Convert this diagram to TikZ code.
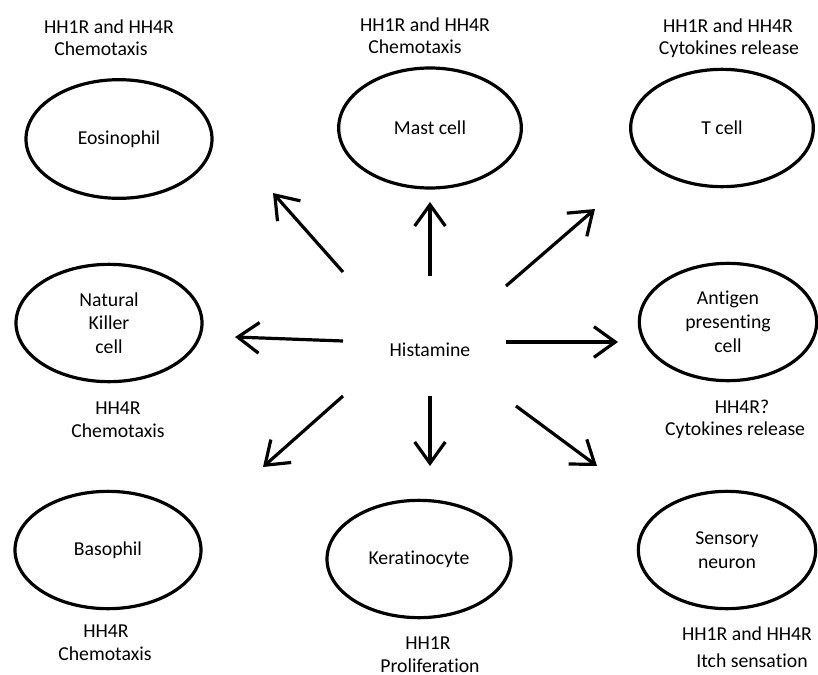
\documentclass[tikz,border=0pt]{standalone}
\usepackage{fontspec}
\setmainfont{Carlito}[Ligatures=CommonOff]
\usetikzlibrary{shapes.geometric,arrows.meta}
\tikzset{
  cell/.style 2 args={ellipse, draw=black, line width=2.4pt, minimum width=#1, minimum height=#2, inner sep=0pt, align=center, font=\fontsize{14.8}{17.8}\selectfont},
  lbl/.style={anchor=base, inner sep=0pt, font=\fontsize{14.8}{17.8}\selectfont},
  arr/.style={line width=2.4pt, -{Straight Barb[length=16pt,width=23pt,line width=2.4pt]}},
}
\begin{document}
\begin{tikzpicture}[x=0.75pt,y=-0.75pt]
\useasboundingbox (0,0) rectangle (818,675);
% cells
\node[cell={139.5pt}{89pt}] (eos) at (119,139) {Eosinophil};
\node[cell={137pt}{90pt}] (mast) at (430,128) {Mast cell};
\node[cell={137pt}{88pt}] (tcell) at (722,128) {T cell};
\node[cell={139.5pt}{88pt}] (nk) at (109,323) {Natural\\Killer\\cell};
\node[cell={133pt}{88pt}] (apc) at (728,322) {Antigen\\presenting\\cell};
\node[cell={139.5pt}{88pt}] (baso) at (108,550) {Basophil};
\node[cell={138pt}{88pt}] (kera) at (419,559) {Keratinocyte};
\node[cell={133pt}{88pt}] (sens) at (727,550) {Sensory\\neuron};
% center
\node[lbl, anchor=center] (hist) at (430,350) {Histamine};
% labels
\node[lbl] (eosA) at (109,33) {HH1R and HH4R};
\node[lbl] (eosB) at (101,55) {Chemotaxis};
\node[lbl] (mastA) at (425,31) {HH1R and HH4R};
\node[lbl] (mastB) at (415,53) {Chemotaxis};
\node[lbl] (tcellA) at (728,32) {HH1R and HH4R};
\node[lbl] (tcellB) at (729,54) {Cytokines release};
\node[lbl] (nkA) at (118,414) {HH4R};
\node[lbl] (nkB) at (118,437) {Chemotaxis};
\node[lbl] (apcA) at (742,413) {HH4R?};
\node[lbl] (apcB) at (735,435) {Cytokines release};
\node[lbl] (basoA) at (106,637) {HH4R};
\node[lbl] (basoB) at (105,660) {Chemotaxis};
\node[lbl] (keraA) at (428,649) {HH1R};
\node[lbl] (keraB) at (430,672) {Proliferation};
\node[lbl] (sensA) at (747,640) {HH1R and HH4R};
\node[lbl] (sensB) at (752,667) {Itch sensation};
% arrow ends
\coordinate (tNW) at (343,272); \coordinate (hNW) at (273,193);
\coordinate (tN) at (430,276);  \coordinate (hN) at (430,202);
\coordinate (tNE) at (506,286); \coordinate (hNE) at (595,209);
\coordinate (tE) at (506,342);  \coordinate (hE) at (618,342);
\coordinate (tW) at (343,341);  \coordinate (hW) at (235,337);
\coordinate (tSW) at (343,396); \coordinate (hSW) at (263,467);
\coordinate (tS) at (430,396);  \coordinate (hS) at (430,466);
\coordinate (tSE) at (516,406); \coordinate (hSE) at (597,466);
\draw[arr] (tNW) -- (hNW);
\draw[arr] (tN) -- (hN);
\draw[arr] (tNE) -- (hNE);
\draw[arr] (tE) -- (hE);
\draw[arr] (tW) -- (hW);
\draw[arr] (tSW) -- (hSW);
\draw[arr] (tS) -- (hS);
\draw[arr] (tSE) -- (hSE);
\end{tikzpicture}
\end{document}
